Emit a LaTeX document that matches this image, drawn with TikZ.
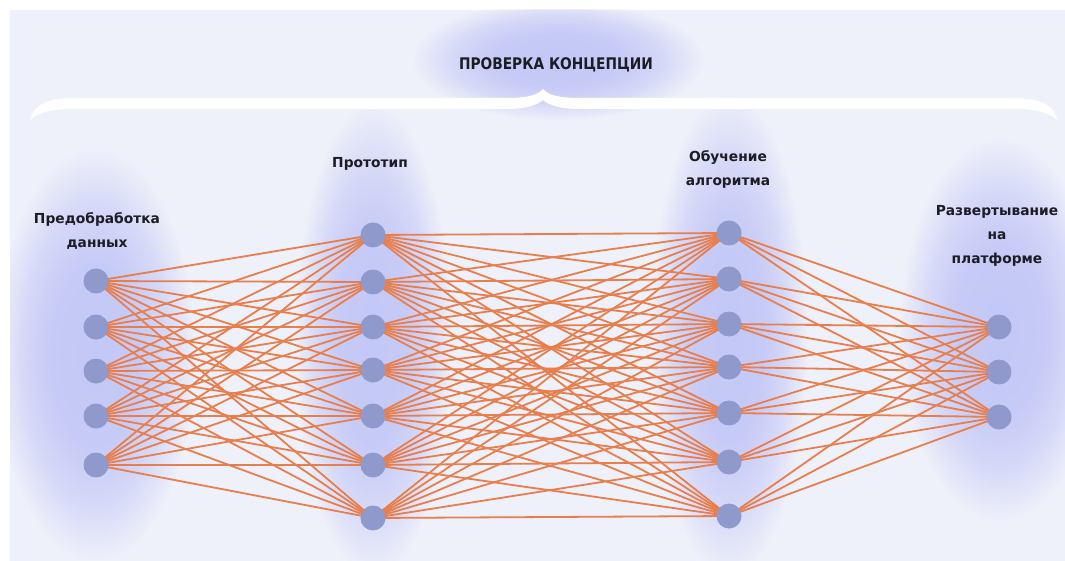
\documentclass[tikz,border=0pt]{standalone}
\usepackage{fontspec}
\setmainfont{DejaVu Sans}
\usetikzlibrary{fadings}
\pgfdeclareradialshading{glowshade}{\pgfpointorigin}{color(0bp)=(pgftransparent!0); color(11bp)=(pgftransparent!6); color(18bp)=(pgftransparent!42); color(25bp)=(pgftransparent!100); color(50bp)=(pgftransparent!100)}
\pgfdeclarefading{softglow}{\pgfuseshading{glowshade}}
\definecolor{panel}{RGB}{238,240,250}
\definecolor{glowc}{RGB}{196,200,246}
\definecolor{nodec}{RGB}{143,153,204}
\definecolor{linkc}{RGB}{232,126,76}
\definecolor{txt}{RGB}{28,28,36}
\pgfdeclarelayer{glowlayer}
\pgfdeclarelayer{linklayer}
\pgfsetlayers{glowlayer,linklayer,main}
\begin{document}
\begin{tikzpicture}[x=1pt,y=-1pt,
  neuron/.style={circle,fill=nodec,minimum size=25pt,inner sep=0pt},
  link/.style={draw=linkc,line width=1.8pt},
  glow/.style={fill=glowc,path fading=softglow},
  lbl/.style={font=\bfseries\fontsize{13.8}{24}\selectfont,text=txt,align=center},
  head/.style={font=\bfseries\fontsize{16}{20}\selectfont,text=txt}]
\useasboundingbox (0,0) rectangle (1065,561);
\begin{pgfonlayer}{glowlayer}
  \fill[white] (0,0) rectangle (1065,561);
  \fill[panel] (10,10) rectangle (1065,561);
  \begin{scope}
    \clip (10,10) rectangle (1065,561);
    \fill[glow] (558,60) ellipse (145 and 60);
    \fill[glow] (95,355) ellipse (100 and 205);
    \fill[glow] (373,340) ellipse (78 and 235);
    \fill[glow] (729,335) ellipse (78 and 240);
    \fill[glow] (1000,330) ellipse (100 and 190);
  \end{scope}
  % brace
  \fill[white] (30,120) .. controls (34,104) and (48,98) .. (75,98) -- (505,98)
    .. controls (528,98) and (538,95) .. (543,89)
    .. controls (548,95) and (558,98) .. (581,98) -- (1012,98)
    .. controls (1040,98) and (1054,104) .. (1057,120)
    .. controls (1048,112) and (1035,109) .. (1012,109) -- (581,109)
    .. controls (562,109) and (550,106) .. (543,100)
    .. controls (536,106) and (524,109) .. (505,109) -- (75,109)
    .. controls (52,109) and (39,112) .. (30,120) -- cycle;
\end{pgfonlayer}

\foreach \y [count=\i] in {281,327,371,416,465} \node[neuron] (a\i) at (96,\y) {};
\foreach \y [count=\i] in {235,282,327,370,416,465,518} \node[neuron] (b\i) at (373,\y) {};
\foreach \y [count=\i] in {233,279,324,367,413,462,516} \node[neuron] (c\i) at (729,\y) {};
\foreach \y [count=\i] in {327,372,417} \node[neuron] (d\i) at (999,\y) {};

\begin{pgfonlayer}{linklayer}
  \foreach \i in {1,...,5} \foreach \j in {1,...,7} \draw[link] (a\i.center) -- (b\j.center);
  \foreach \i in {1,...,7} \foreach \j in {1,...,7} \draw[link] (b\i.center) -- (c\j.center);
  \foreach \i in {1,...,7} \foreach \j in {1,...,3} \draw[link] (c\i.center) -- (d\j.center);
\end{pgfonlayer}

\node[head] (title) at (556,65) {\scalebox{0.86}[1]{ПРОВЕРКА КОНЦЕПЦИИ}};
\node[lbl] (l1) at (97,231) {Предобработка\\данных};
\node[lbl] (l2) at (370,164) {Прототип};
\node[lbl] (l3) at (728,169) {Обучение\\алгоритма};
\node[lbl] (l4) at (997,236) {Развертывание\\на\\платформе};
\end{tikzpicture}
\end{document}
